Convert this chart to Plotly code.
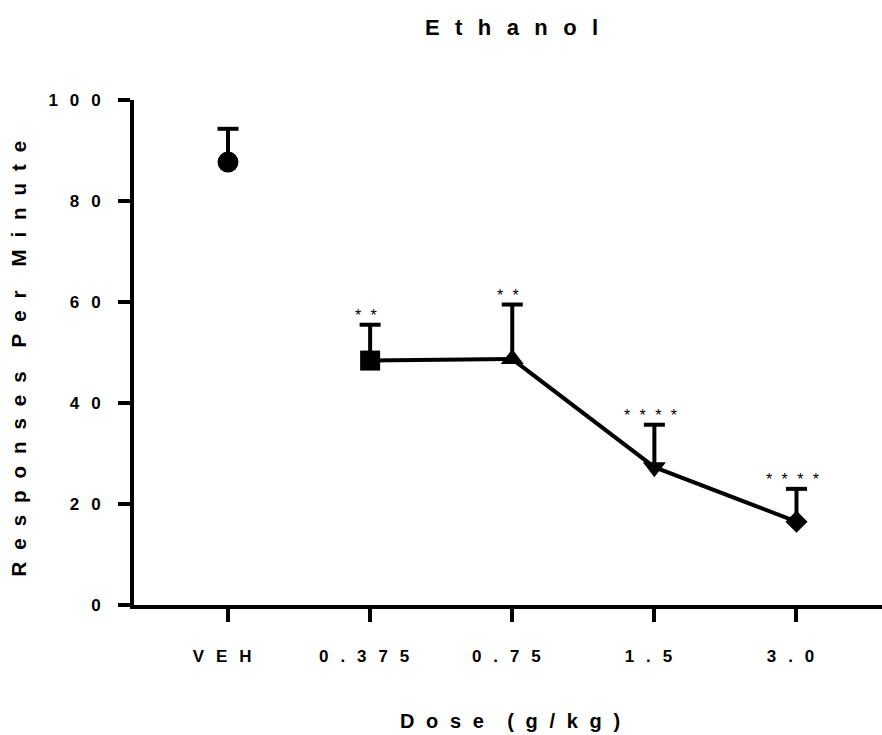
import plotly.graph_objects as go

# Ethanol dose-response: mean response rate with SEM (upper bar only)
doses = ["VEH", "0.375", "0.75", "1.5", "3.0"]
mean_rate = [87.7, 48.4, 48.7, 27.3, 16.5]
sem_rate = [6.6, 7.1, 10.8, 8.4, 6.5]
significance = ["", "**", "**", "****", "****"]
marker_symbols = ["circle", "square", "triangle-up", "triangle-down", "diamond"]
marker_sizes = [21, 20, 20, 20, 17]
y_ticks = [0, 20, 40, 60, 80, 100]

title_text = "Ethanol"
x_title = "Dose (g/kg)"
y_title = "Responses Per Minute"

FONT = "Liberation Sans, Arial, sans-serif"
INK = "black"


def spaced(text, gap, trailing=False):
    """Widely letter-spaced label, the way the axis text is set."""
    words = text.split(" ")
    out = (gap * 2).join(gap.join(word) for word in words)
    return out + gap if trailing else out


TICK_GAP = "\u2002\u2009"
AXIS_GAP = "\u2002\u200a"
TITLE_GAP = "\u2002\u2009"
STAR_GAP = "\u2002\u200a"

upper = [m + s for m, s in zip(mean_rate, sem_rate)]

fig = go.Figure()

# vehicle control: stand-alone point
fig.add_trace(go.Scatter(
    x=doses[:1], y=mean_rate[:1], mode="markers",
    marker=dict(symbol=marker_symbols[0], size=marker_sizes[0], color=INK,
                opacity=1, line=dict(width=0)),
    error_y=dict(type="data", symmetric=False, array=sem_rate[:1],
                 arrayminus=[0], width=0, thickness=4, color=INK),
    showlegend=False, hoverinfo="skip",
))

# ethanol doses joined by a line
fig.add_trace(go.Scatter(
    x=doses[1:], y=mean_rate[1:], mode="lines+markers",
    line=dict(color=INK, width=4),
    marker=dict(symbol=marker_symbols[1:], size=marker_sizes[1:], color=INK,
                opacity=1, line=dict(width=0)),
    error_y=dict(type="data", symmetric=False, array=sem_rate[1:],
                 arrayminus=[0] * (len(doses) - 1), width=0, thickness=4, color=INK),
    showlegend=False, hoverinfo="skip",
))

# caps on the top of each SEM bar
fig.add_trace(go.Scatter(
    x=doses, y=upper, mode="markers",
    marker=dict(symbol="line-ew", size=15, color=INK,
                line=dict(color=INK, width=4)),
    showlegend=False, hoverinfo="skip",
))

annotations = []
for i, (top, stars) in enumerate(zip(upper, significance)):
    if stars:
        annotations.append(dict(
            x=i, y=top, xref="x", yref="y", text=spaced(stars, STAR_GAP),
            showarrow=False, xanchor="center", yanchor="bottom", xshift=-4, yshift=-1,
            font=dict(family=FONT, size=16, color=INK),
        ))

annotations += [
    dict(text=spaced(title_text, TITLE_GAP), xref="paper", yref="paper",
         x=0.5, y=1, xanchor="center", yanchor="middle", xshift=3, yshift=100 - 27,
         showarrow=False, font=dict(family=FONT, size=22, color=INK, weight="bold")),
    dict(text=spaced(x_title, AXIS_GAP), xref="paper", yref="paper",
         x=0.5, y=0, xanchor="center", yanchor="middle", xshift=2, yshift=-(721 - 605),
         showarrow=False, font=dict(family=FONT, size=20, color=INK, weight="bold")),
    dict(text=spaced(y_title, AXIS_GAP), xref="paper", yref="paper",
         x=0, y=0.5, xanchor="center", yanchor="middle", xshift=-(134 - 18), yshift=-6,
         textangle=-90, showarrow=False,
         font=dict(family=FONT, size=20.5, color=INK, weight="bold")),
]

fig.update_layout(
    width=882, height=735,
    margin=dict(l=134, r=0, t=100, b=130),
    paper_bgcolor="white", plot_bgcolor="white",
    annotations=annotations,
    xaxis=dict(
        type="category", categoryorder="array", categoryarray=doses,
        range=[-0.6615, 4.6017],
        tickvals=doses, ticktext=[spaced(d, TICK_GAP, trailing=True) for d in doses],
        showline=True, linewidth=4, linecolor=INK,
        ticks="outside", ticklen=13, tickwidth=4, tickcolor=INK,
        ticklabelstandoff=20,
        tickfont=dict(family=FONT, size=17, color=INK, weight="bold"),
        showgrid=False, zeroline=False,
    ),
    yaxis=dict(
        range=[0, 100],
        tickvals=y_ticks, ticktext=[spaced(str(v), TICK_GAP) for v in y_ticks],
        showline=True, linewidth=4, linecolor=INK,
        ticks="outside", ticklen=12, tickwidth=4, tickcolor=INK,
        ticklabelstandoff=14,
        tickfont=dict(family=FONT, size=17, color=INK, weight="bold"),
        showgrid=False, zeroline=False,
    ),
)

fig.write_html("out.html")
